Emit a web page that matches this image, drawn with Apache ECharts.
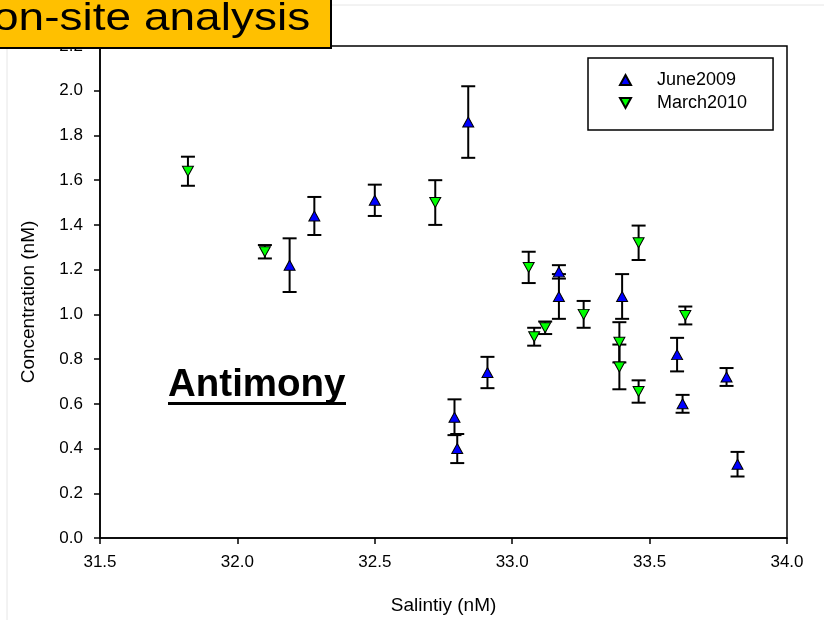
<!DOCTYPE html>
<html>
<head>
<meta charset="utf-8">
<script src="https://cdn.jsdelivr.net/npm/echarts@6/dist/echarts.min.js"></script>
<style>
  html, body { margin: 0; padding: 0; background: #fff; }
  #chart { width: 824px; height: 620px; }
</style>
</head>
<body>
<div id="chart"></div>
<script>
// Antimony concentration vs. salinity, two sampling campaigns
const juneSalinity = [32.19, 32.28, 32.50, 32.84, 32.79, 32.80, 32.91, 33.17, 33.17, 33.40, 33.60, 33.62, 33.78, 33.82];
const juneConc     = [1.22, 1.44, 1.51, 1.86, 0.54, 0.40, 0.74, 1.19, 1.08, 1.08, 0.82, 0.60, 0.72, 0.33];
const juneErr      = [0.12, 0.085, 0.07, 0.16, 0.08, 0.065, 0.07, 0.03, 0.10, 0.10, 0.075, 0.04, 0.04, 0.055];

const marchSalinity = [31.82, 32.10, 32.72, 33.06, 33.08, 33.12, 33.26, 33.39, 33.39, 33.46, 33.46, 33.63];
const marchConc     = [1.64, 1.28, 1.50, 1.21, 0.90, 0.94, 1.00, 0.875, 0.765, 1.32, 0.655, 0.995];
const marchErr      = [0.065, 0.03, 0.10, 0.07, 0.04, 0.028, 0.06, 0.09, 0.10, 0.077, 0.05, 0.04];

const seriesNames = ['June2009', 'March2010'];
const xTicks = { min: 31.5, max: 34.0, step: 0.5 };
const yTicks = { min: 0.0, max: 2.2, step: 0.2 };

const FONT = 'Liberation Sans, Arial, sans-serif';
const downTriangle = 'path://M0,0 L10,0 L5,9 Z';

const points = (xs, ys) => xs.map((x, i) => [x, ys[i]]);
const bars = (xs, ys, es) => xs.map((x, i) => [x, ys[i], es[i]]);

// vertical error bar with caps, placed through the value axes
function renderErrorBar(params, api) {
  const x = api.value(0), y = api.value(1), e = api.value(2);
  const top = api.coord([x, y + e]);
  const bot = api.coord([x, y - e]);
  const cap = 7;
  const style = { stroke: '#000', lineWidth: 2 };
  return {
    type: 'group',
    children: [
      { type: 'line', shape: { x1: top[0], y1: top[1], x2: bot[0], y2: bot[1] }, style },
      { type: 'line', shape: { x1: top[0] - cap, y1: top[1], x2: top[0] + cap, y2: top[1] }, style },
      { type: 'line', shape: { x1: bot[0] - cap, y1: bot[1], x2: bot[0] + cap, y2: bot[1] }, style }
    ]
  };
}

const chart = echarts.init(document.getElementById('chart'), null, { renderer: 'canvas' });

chart.setOption({
  backgroundColor: '#fff',
  animation: false,
  textStyle: { fontFamily: FONT, color: '#000' },
  grid: {
    left: 100, right: 37, top: 46, bottom: 82,
    show: true, borderColor: '#000', borderWidth: 1.5, backgroundColor: 'transparent'
  },
  xAxis: {
    type: 'value',
    min: xTicks.min, max: xTicks.max, interval: xTicks.step,
    name: 'Salintiy (nM)',
    nameLocation: 'middle',
    nameGap: 58,
    nameTextStyle: { fontSize: 19, color: '#000', fontFamily: FONT },
    axisLine: { show: true, onZero: false, lineStyle: { color: '#000', width: 1.5 } },
    axisTick: { show: true, length: 6, lineStyle: { color: '#000', width: 1.5 } },
    axisLabel: { fontSize: 17, color: '#000', margin: 16, fontFamily: FONT,
                 formatter: v => v.toFixed(1) },
    splitLine: { show: false }
  },
  yAxis: {
    type: 'value',
    min: yTicks.min, max: yTicks.max, interval: yTicks.step,
    name: 'Concentration (nM)',
    nameLocation: 'middle',
    nameGap: 62,
    nameTextStyle: { fontSize: 19, color: '#000', fontFamily: FONT, padding: [0, 20, 0, 0] },
    axisLine: { show: true, onZero: false, lineStyle: { color: '#000', width: 1.5 } },
    axisTick: { show: true, length: 6, lineStyle: { color: '#000', width: 1.5 } },
    axisLabel: { fontSize: 17, color: '#000', margin: 17, fontFamily: FONT,
                 formatter: v => v.toFixed(1) },
    splitLine: { show: false }
  },
  legend: {
    orient: 'vertical',
    left: 588, top: 58,
    padding: [13, 26, 18, 31],
    itemWidth: 11, itemHeight: 10, itemGap: 5,
    borderColor: '#000', borderWidth: 1.5,
    backgroundColor: '#fff',
    textStyle: { fontSize: 18, color: '#000', fontFamily: FONT, lineHeight: 18, padding: [0, 0, 0, 21] },
    data: [
      { name: seriesNames[0], icon: 'triangle' },
      { name: seriesNames[1], icon: downTriangle }
    ]
  },
  series: [
    {
      name: 'June2009 error',
      type: 'custom',
      renderItem: renderErrorBar,
      data: bars(juneSalinity, juneConc, juneErr),
      z: 2, silent: true
    },
    {
      name: 'March2010 error',
      type: 'custom',
      renderItem: renderErrorBar,
      data: bars(marchSalinity, marchConc, marchErr),
      z: 2, silent: true
    },
    {
      name: seriesNames[0],
      type: 'scatter',
      symbol: 'triangle',
      symbolSize: [11, 10],
      itemStyle: { color: '#0000FF', borderColor: '#000', borderWidth: 1, opacity: 1 },
      data: points(juneSalinity, juneConc),
      z: 3
    },
    {
      name: seriesNames[1],
      type: 'scatter',
      symbol: 'triangle',
      symbolRotate: 180,
      symbolSize: [11, 10],
      itemStyle: { color: '#00FF00', borderColor: '#000', borderWidth: 1, opacity: 1 },
      data: points(marchSalinity, marchConc),
      z: 3
    }
  ],
  graphic: [
    // faint page rules behind the figure
    { type: 'line', shape: { x1: 7, y1: 48, x2: 7, y2: 620 }, style: { stroke: '#e6e6e6', lineWidth: 1 }, z: 0 },
    { type: 'line', shape: { x1: 330, y1: 5, x2: 824, y2: 5 }, style: { stroke: '#e6e6e6', lineWidth: 1 }, z: 0 },
    // element name inside the plot
    {
      type: 'text', left: 168, top: 366, z: 10,
      style: { text: 'Antimony', fontSize: 38.5, fontWeight: 'bold', fontFamily: FONT, fill: '#000' }
    },
    {
      type: 'rect', shape: { x: 168, y: 402, width: 178, height: 3 },
      style: { fill: '#000' }, z: 10
    },
    // slide heading banner
    {
      type: 'rect', shape: { x: -4, y: -4, width: 335, height: 52 },
      style: { fill: '#FFC000', stroke: '#000', lineWidth: 2 }, z: 20
    },
    {
      type: 'text', x: -7, y: 19, scaleX: 1.18, z: 21,
      style: { text: 'on-site analysis', fontSize: 39, fontFamily: FONT, fill: '#000',
               align: 'left', verticalAlign: 'middle' }
    }
  ]
});
</script>
</body>
</html>
